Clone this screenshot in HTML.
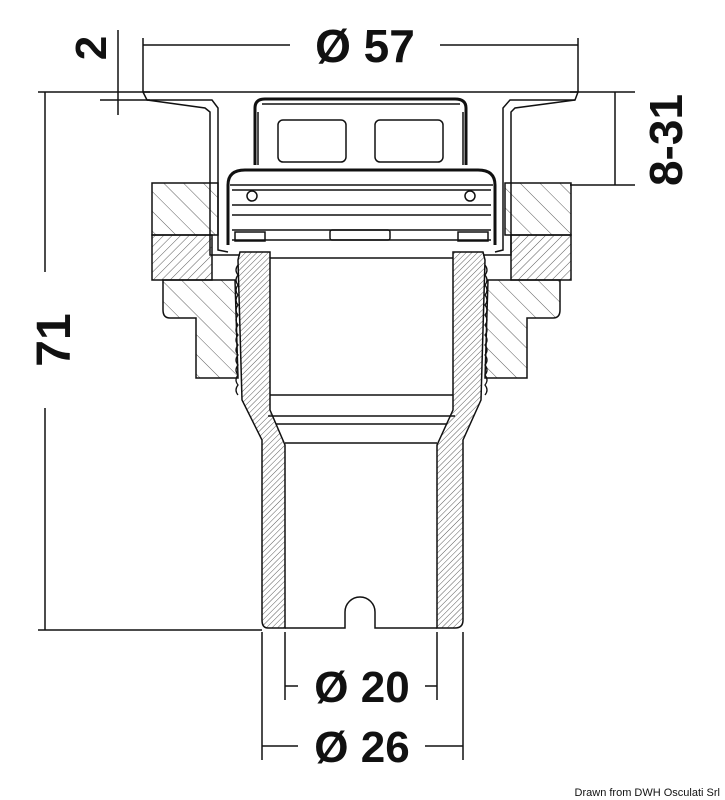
<!DOCTYPE html>
<html><head><meta charset="utf-8"><style>
html,body{margin:0;padding:0;background:#fff;width:725px;height:800px;overflow:hidden}
svg{display:block}
text{font-family:"Liberation Sans",sans-serif;font-weight:bold;fill:#111}
</style></head><body>
<svg width="725" height="800" viewBox="0 0 725 800" xmlns="http://www.w3.org/2000/svg">
<defs>
<pattern id="h1" width="6" height="6" patternUnits="userSpaceOnUse" patternTransform="rotate(45)"><line x1="0" y1="0" x2="0" y2="6" stroke="#333" stroke-width="0.8"/></pattern>
<pattern id="h2" width="14" height="14" patternUnits="userSpaceOnUse" patternTransform="rotate(-45)"><line x1="0" y1="0" x2="0" y2="14" stroke="#333" stroke-width="0.8"/></pattern>
<pattern id="h3" width="4" height="4" patternUnits="userSpaceOnUse" patternTransform="rotate(45)"><line x1="0" y1="0" x2="0" y2="4" stroke="#333" stroke-width="0.8"/></pattern>
</defs>
<g stroke="#111" stroke-width="1.5" fill="none">
<line x1="143" y1="38" x2="143" y2="92"/><line x1="578" y1="38" x2="578" y2="92"/>
<line x1="143" y1="45" x2="290" y2="45"/><line x1="440" y1="45" x2="578" y2="45"/>
<line x1="118" y1="30" x2="118" y2="115"/>
<line x1="100" y1="100" x2="150" y2="100"/>
<line x1="38" y1="92" x2="150" y2="92"/>
<line x1="45" y1="92" x2="45" y2="272"/><line x1="45" y1="408" x2="45" y2="630"/>
<line x1="38" y1="630" x2="262" y2="630"/>
<line x1="570" y1="92" x2="635" y2="92"/><line x1="570" y1="185" x2="635" y2="185"/>
<line x1="615" y1="92" x2="615" y2="185"/>
<line x1="285" y1="632" x2="285" y2="700"/><line x1="437" y1="632" x2="437" y2="700"/>
<line x1="285" y1="686" x2="298" y2="686"/><line x1="425" y1="686" x2="437" y2="686"/>
<line x1="262" y1="632" x2="262" y2="760"/><line x1="463" y1="632" x2="463" y2="760"/>
<line x1="262" y1="746" x2="298" y2="746"/><line x1="425" y1="746" x2="463" y2="746"/>
</g>
<g stroke="#111" stroke-width="1.5">
<rect x="152" y="183" width="66" height="52" fill="url(#h2)"/>
<rect x="505" y="183" width="66" height="52" fill="url(#h2)"/>
<rect x="152" y="235" width="60" height="45" fill="url(#h1)"/>
<rect x="511" y="235" width="60" height="45" fill="url(#h1)"/>
<path d="M163 280 L235 280 L238 378 L196 378 L196 318 L170 318 Q163 318 163 310 Z" fill="url(#h2)"/>
<path d="M560 280 L488 280 L485 378 L527 378 L527 318 L553 318 Q560 318 560 310 Z" fill="url(#h2)"/>
<path d="M240 252 L270 252 L270 410 L285 445 L285 628 L268 628 Q262 628 262 620 L262 440 L242 400 L238 260 Z" fill="url(#h3)"/>
<path d="M483 252 L453 252 L453 410 L437 445 L437 628 L455 628 Q463 628 463 620 L463 440 L481 400 L485 260 Z" fill="url(#h3)"/>
</g>
<g stroke="#111" stroke-width="1.3" fill="#fff">
<path d="M238 265 q-4 5 0 10 q-4 5 0 10 q-4 5 0 10 q-4 5 0 10 q-4 5 0 10 q-4 5 0 10 q-4 5 0 10 q-4 5 0 10 q-4 5 0 10 q-4 5 0 10 q-4 5 0 10 q-4 5 0 10 q-4 5 0 10" fill="none"/>
<path d="M485 265 q4 5 0 10 q4 5 0 10 q4 5 0 10 q4 5 0 10 q4 5 0 10 q4 5 0 10 q4 5 0 10 q4 5 0 10 q4 5 0 10 q4 5 0 10 q4 5 0 10 q4 5 0 10 q4 5 0 10" fill="none"/>
</g>
<g stroke="#111" stroke-width="1.5" fill="none">
<path d="M270 395 L453 395 M268 416 L455 416 M276 424 L447 424 M285 443 L437 443"/>
<path d="M285 628 L345 628 L345 612 A15 15 0 0 1 375 612 L375 628 L437 628"/>
<path d="M270 258 L453 258"/>
<path d="M143 92 L578 92 L575 100 L510 100 L503 108 L503 250 L495 252 M143 92 L147 100 L212 100 L218 108 L218 250 L228 252"/>
<path d="M147 100 L205 108 L210 112 L210 255 L240 255 M575 100 L515 108 L511 112 L511 255 L483 255"/>
<path d="M255 165 L255 108 Q255 99 265 99 L455 99 Q466 99 466 108 L466 165" stroke-width="3"/>
<path d="M258 112 L258 165 M463 112 L463 165 M262 104 L460 104"/>
<rect x="278" y="120" width="68" height="42" rx="5"/>
<rect x="375" y="120" width="68" height="42" rx="5"/>
<path d="M228 245 L228 185 Q228 170 245 170 L478 170 Q495 170 495 185 L495 245" stroke-width="3"/>
<path d="M230 185 L493 185 M232 190 L491 190 M232 205 L491 205 M232 215 L491 215 M232 230 L491 230 M232 240 L491 240"/>
<circle cx="252" cy="196" r="5"/><circle cx="470" cy="196" r="5"/>
<rect x="330" y="230" width="60" height="10" rx="2"/>
<rect x="235" y="232" width="30" height="9"/><rect x="458" y="232" width="30" height="9"/>
</g>
<text x="365" y="62" font-size="46" text-anchor="middle">Ø 57</text>
<text transform="translate(106,48) rotate(-90)" font-size="44" text-anchor="middle">2</text>
<text transform="translate(70,340) rotate(-90)" font-size="48" text-anchor="middle">71</text>
<text transform="translate(682,140) rotate(-90)" font-size="46" text-anchor="middle">8-31</text>
<text x="362" y="702" font-size="44" text-anchor="middle">Ø 20</text>
<text x="362" y="762" font-size="44" text-anchor="middle">Ø 26</text>
<text x="720" y="796" font-size="11" text-anchor="end" style="font-weight:normal">Drawn from DWH Osculati Srl</text>
</svg>
</body></html>
